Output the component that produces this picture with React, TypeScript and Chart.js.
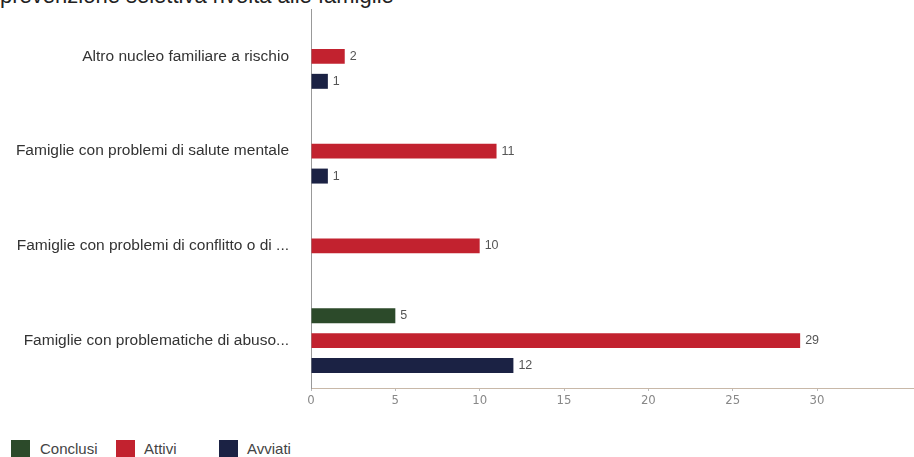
import React, { useEffect, useRef } from "react";
import { Chart, registerables } from "chart.js";
Chart.register(...registerables);

const categories = [
  "Altro nucleo familiare a rischio",
  "Famiglie con problemi di salute mentale",
  "Famiglie con problemi di conflitto o di ...",
  "Famiglie con problematiche di abuso...",
];
const seriesNames = ["Conclusi", "Attivi", "Avviati"];
const conclusi = [null, null, null, 5];
const attivi = [2, 11, 10, 29];
const avviati = [1, 1, null, 12];
const colors = ["#2c4a2a", "#c2222f", "#1b2244"];
const xTicks = [0, 5, 10, 15, 20, 25, 30];

const valueLabels = {
  id: "valueLabels",
  afterDatasetsDraw(chart: any) {
    const ctx = chart.ctx;
    ctx.save();
    ctx.font = "12.5px 'Liberation Sans', Arial, sans-serif";
    ctx.fillStyle = "#555";
    ctx.textBaseline = "middle";
    ctx.textAlign = "left";
    chart.data.datasets.forEach((ds: any, i: number) => {
      const meta = chart.getDatasetMeta(i);
      meta.data.forEach((el: any, j: number) => {
        const v = ds.data[j];
        if (v === null || v === undefined) return;
        ctx.fillText(String(v), el.x + 5, el.y);
      });
    });
    ctx.restore();
  },
};

export default function App() {
  const ref = useRef<HTMLCanvasElement>(null);
  useEffect(() => {
    if (!ref.current) return;
    const chart = new Chart(ref.current, {
      type: "bar",
      data: {
        labels: categories,
        datasets: [conclusi, attivi, avviati].map((d, i) => ({
          label: seriesNames[i],
          data: d as any,
          backgroundColor: colors[i],
          barPercentage: 0.6,
          categoryPercentage: 0.79,
        })),
      },
      options: {
        indexAxis: "y",
        animation: false,
        responsive: false,
        layout: { padding: { top: 9, right: 0, left: 0, bottom: 0 } },
        plugins: { legend: { display: false }, tooltip: { enabled: false } },
        scales: {
          x: {
            min: 0,
            max: 35.75,
            afterFit: (s: any) => { s.height = 22; s.paddingLeft = 0; s.paddingRight = 0; },
            afterBuildTicks: (s: any) => { s.ticks = xTicks.map((v) => ({ value: v })); },
            grid: { drawOnChartArea: false, tickLength: 3, color: "#bbb" },
            border: { color: "#c8b8a8" },
            ticks: {
              color: "#888",
              font: { family: "'DejaVu Sans Condensed', 'Liberation Sans Narrow', sans-serif", size: 13 },
              padding: 2,
            },
          },
          y: {
            afterFit: (s: any) => { s.width = 311; s.paddingTop = 0; s.paddingBottom = 0; },
            grid: { display: false },
            border: { color: "#999" },
            ticks: {
              color: "#333",
              padding: 14,
              font: { family: "'Liberation Sans', Arial, sans-serif", size: 15.5 },
            },
          },
        },
      },
      plugins: [valueLabels],
    });
    return () => chart.destroy();
  }, []);

  const legendItems = [
    { name: "Conclusi", box: 11, text: 40 },
    { name: "Attivi", box: 116, text: 144 },
    { name: "Avviati", box: 219, text: 247 },
  ];

  return (
    <div style={{ position: "fixed", left: 0, top: 0, width: 914, height: 457, background: "#fff", overflow: "hidden", fontFamily: "'Liberation Sans', Arial, sans-serif" }}>
      <div style={{ position: "absolute", left: 0, top: -16, fontSize: 22, lineHeight: "24px", color: "#222", whiteSpace: "nowrap" }}>
        prevenzione selettiva rivolta alle famiglie
      </div>
      <canvas ref={ref} width={914} height={410} style={{ position: "absolute", left: 0, top: 0 }} />
      {legendItems.map((it, i) => (
        <React.Fragment key={it.name}>
          <div style={{ position: "absolute", left: it.box, top: 440, width: 19, height: 17, background: colors[i] }} />
          <div style={{ position: "absolute", left: it.text, top: 440, fontSize: 15, color: "#444", lineHeight: "17px" }}>{it.name}</div>
        </React.Fragment>
      ))}
    </div>
  );
}
